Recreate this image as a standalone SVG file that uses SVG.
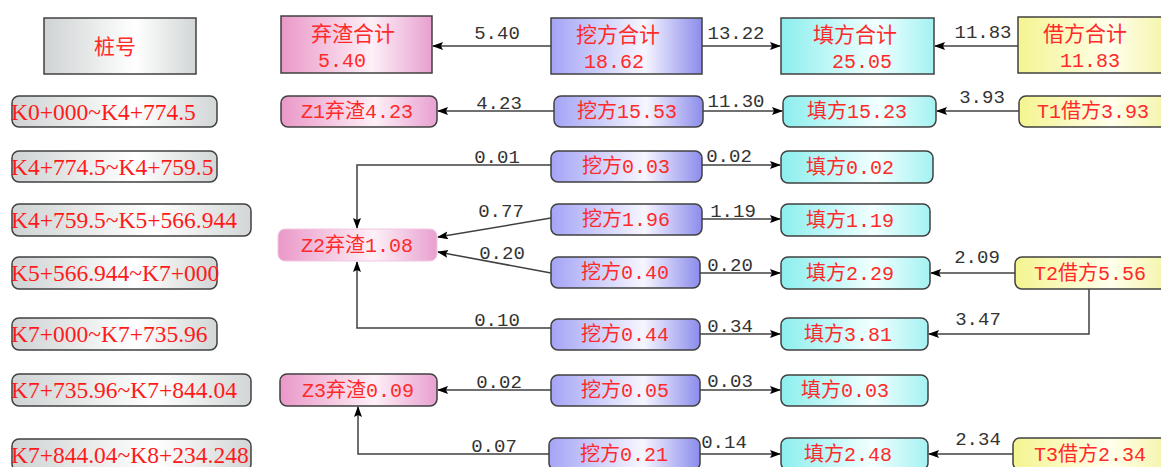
<svg xmlns="http://www.w3.org/2000/svg" width="1161" height="467" viewBox="0 0 1161 467">
<defs>
<linearGradient id="gGray" x1="0" y1="0" x2="1" y2="0"><stop offset="0" stop-color="#cfd3d3"/><stop offset="0.6" stop-color="#ffffff"/><stop offset="1" stop-color="#d2d6d6"/></linearGradient>
<linearGradient id="gPink" x1="0" y1="0" x2="1" y2="0"><stop offset="0" stop-color="#ea98c8"/><stop offset="0.6" stop-color="#fdf0f7"/><stop offset="1" stop-color="#e8a0d0"/></linearGradient>
<linearGradient id="gBlue" x1="0" y1="0" x2="1" y2="0"><stop offset="0" stop-color="#a4a4f6"/><stop offset="0.62" stop-color="#f6f6ff"/><stop offset="1" stop-color="#8c8cec"/></linearGradient>
<linearGradient id="gCyan" x1="0" y1="0" x2="1" y2="0"><stop offset="0" stop-color="#8ceeee"/><stop offset="0.62" stop-color="#f2ffff"/><stop offset="1" stop-color="#a4f2f2"/></linearGradient>
<linearGradient id="gYellow" x1="0" y1="0" x2="1" y2="0"><stop offset="0" stop-color="#f4f490"/><stop offset="0.62" stop-color="#ffffec"/><stop offset="1" stop-color="#f4f4a8"/></linearGradient>
<marker id="arr" markerWidth="11" markerHeight="9" refX="10" refY="4" orient="auto" markerUnits="userSpaceOnUse"><path d="M0,0 L11,4 L0,8 L2,4 z" fill="#000"/></marker>
<style>
.box{stroke:#404040;stroke-width:1.5}
.gray{fill:url(#gGray)}.pink{fill:url(#gPink)}.blue{fill:url(#gBlue)}.cyan{fill:url(#gCyan)}.yellow{fill:url(#gYellow)}
.t{font-family:"Liberation Mono","Noto Sans CJK SC",monospace;font-size:20px;fill:#ff2a2a;text-anchor:middle}
.h{font-family:"Noto Sans CJK SC",sans-serif;font-size:21px;fill:#ff2a2a;text-anchor:middle}
.st{font-family:"Liberation Serif",serif;font-size:23.5px;fill:#ff1a1a}
.ln{fill:none;stroke:#404040;stroke-width:1.5}
.arr{marker-end:url(#arr)}
.lb{font-family:"Liberation Mono",monospace;font-size:19px;fill:#333;text-anchor:middle}
</style>
</defs>
<rect width="1161" height="467" fill="#fff"/>

<g id="connectors">
<path class="ln arr" d="M551,46 H433"/>
<path class="ln arr" d="M702,46 H780"/>
<path class="ln arr" d="M1018,46 H935"/>
<path class="ln arr" d="M554,111 H438"/>
<path class="ln arr" d="M703,111 H782"/>
<path class="ln arr" d="M1019,111 H937"/>
<path class="ln arr" d="M551,165 H357 V228"/>
<path class="ln arr" d="M702,165 H780"/>
<path class="ln arr" d="M551,218 L438,237"/>
<path class="ln arr" d="M702,219 H780"/>
<path class="ln arr" d="M551,273 L438,252"/>
<path class="ln arr" d="M700,273 H780"/>
<path class="ln arr" d="M1015,273 H931"/>
<path class="ln arr" d="M551,328 H357 V262"/>
<path class="ln arr" d="M700,334 H780"/>
<path class="ln arr" d="M1089,289 V334 H929"/>
<path class="ln arr" d="M551,390 H438"/>
<path class="ln arr" d="M700,390 H780"/>
<path class="ln arr" d="M549,454 H358 V407"/>
<path class="ln arr" d="M700,454 H780"/>
<path class="ln arr" d="M1013,454 H929"/>
<text class="lb" x="497" y="39">5.40</text>
<text class="lb" x="736" y="39">13.22</text>
<text class="lb" x="983" y="38">11.83</text>
<text class="lb" x="499" y="109">4.23</text>
<text class="lb" x="736" y="107">11.30</text>
<text class="lb" x="982" y="103">3.93</text>
<text class="lb" x="497" y="163">0.01</text>
<text class="lb" x="729" y="162">0.02</text>
<text class="lb" x="501" y="217">0.77</text>
<text class="lb" x="733" y="217">1.19</text>
<text class="lb" x="502" y="259">0.20</text>
<text class="lb" x="730" y="271">0.20</text>
<text class="lb" x="977" y="263">2.09</text>
<text class="lb" x="497" y="326">0.10</text>
<text class="lb" x="730" y="332">0.34</text>
<text class="lb" x="978" y="325">3.47</text>
<text class="lb" x="499" y="388">0.02</text>
<text class="lb" x="730" y="387">0.03</text>
<text class="lb" x="494" y="452">0.07</text>
<text class="lb" x="724" y="448">0.14</text>
<text class="lb" x="978" y="445">2.34</text>
</g>

<g id="hdr-station"><rect class="box gray" x="44" y="18" width="152" height="56"/><text class="h" x="115" y="54">桩号</text></g>
<g id="hdr-waste"><rect class="box pink" x="281" y="16" width="151" height="57"/><text class="h" x="353" y="41">弃渣合计</text><text class="t" x="342" y="67">5.40</text></g>
<g id="hdr-cut"><rect class="box blue" x="551" y="18" width="151" height="56"/><text class="h" x="618" y="42">挖方合计</text><text class="t" x="614" y="68">18.62</text></g>
<g id="hdr-fill"><rect class="box cyan" x="781" y="18" width="153" height="56"/><text class="h" x="855" y="42">填方合计</text><text class="t" x="862" y="68">25.05</text></g>
<g id="hdr-borrow"><rect class="box yellow" x="1018" y="17" width="150" height="56"/><text class="h" x="1085" y="41">借方合计</text><text class="t" x="1090" y="67">11.83</text></g>

<g id="st1"><rect class="box gray" x="12" y="96" width="205" height="31" rx="7"/><text class="st" x="11" y="120">K0+000~K4+774.5</text></g>
<g id="st2"><rect class="box gray" x="12" y="151" width="205" height="31" rx="7"/><text class="st" x="11" y="175">K4+774.5~K4+759.5</text></g>
<g id="st3"><rect class="box gray" x="12" y="204" width="239" height="32" rx="7"/><text class="st" x="11" y="228">K4+759.5~K5+566.944</text></g>
<g id="st4"><rect class="box gray" x="12" y="257" width="205" height="32" rx="7"/><text class="st" x="11" y="281">K5+566.944~K7+000</text></g>
<g id="st5"><rect class="box gray" x="12" y="318" width="205" height="32" rx="7"/><text class="st" x="11" y="342">K7+000~K7+735.96</text></g>
<g id="st6"><rect class="box gray" x="12" y="374" width="239" height="32" rx="7"/><text class="st" x="11" y="398">K7+735.96~K7+844.04</text></g>
<g id="st7"><rect class="box gray" x="12" y="439" width="239" height="32" rx="7"/><text class="st" x="11" y="463">K7+844.04~K8+234.248</text></g>

<g id="z1"><rect class="box pink" x="281" y="96" width="156" height="31" rx="7"/><text class="t" x="357" y="118">Z1弃渣4.23</text></g>
<g id="z2"><rect class="pink" x="278" y="229" width="159" height="32" rx="7" stroke="#f0c8e0" stroke-width="1"/><text class="t" x="357" y="252">Z2弃渣1.08</text></g>
<g id="z3"><rect class="box pink" x="280" y="374" width="157" height="32" rx="7"/><text class="t" x="358" y="397">Z3弃渣0.09</text></g>

<g id="c1"><rect class="box blue" x="554" y="96" width="149" height="31" rx="7"/><text class="t" x="627" y="118">挖方15.53</text></g>
<g id="c2"><rect class="box blue" x="551" y="151" width="151" height="31" rx="7"/><text class="t" x="626" y="173">挖方0.03</text></g>
<g id="c3"><rect class="box blue" x="551" y="204" width="151" height="31" rx="7"/><text class="t" x="626" y="226">挖方1.96</text></g>
<g id="c4"><rect class="box blue" x="551" y="257" width="149" height="31" rx="7"/><text class="t" x="625" y="279">挖方0.40</text></g>
<g id="c5"><rect class="box blue" x="551" y="319" width="149" height="31" rx="7"/><text class="t" x="625" y="341">挖方0.44</text></g>
<g id="c6"><rect class="box blue" x="551" y="375" width="149" height="31" rx="7"/><text class="t" x="625" y="397">挖方0.05</text></g>
<g id="c7"><rect class="box blue" x="549" y="438" width="151" height="32" rx="7"/><text class="t" x="624" y="461">挖方0.21</text></g>

<g id="f1"><rect class="box cyan" x="783" y="96" width="153" height="31" rx="7"/><text class="t" x="857" y="118">填方15.23</text></g>
<g id="f2"><rect class="box cyan" x="781" y="151" width="152" height="32" rx="7"/><text class="t" x="850" y="174">填方0.02</text></g>
<g id="f3"><rect class="box cyan" x="781" y="204" width="149" height="32" rx="7"/><text class="t" x="850" y="227">填方1.19</text></g>
<g id="f4"><rect class="box cyan" x="781" y="257" width="149" height="32" rx="7"/><text class="t" x="850" y="280">填方2.29</text></g>
<g id="f5"><rect class="box cyan" x="781" y="318" width="147" height="32" rx="7"/><text class="t" x="848" y="341">填方3.81</text></g>
<g id="f6"><rect class="box cyan" x="781" y="375" width="147" height="31" rx="7"/><text class="t" x="845" y="397">填方0.03</text></g>
<g id="f7"><rect class="box cyan" x="781" y="438" width="147" height="32" rx="7"/><text class="t" x="848" y="461">填方2.48</text></g>

<g id="t1"><rect class="box yellow" x="1019" y="96" width="150" height="31" rx="7"/><text class="t" x="1093" y="118">T1借方3.93</text></g>
<g id="t2"><rect class="box yellow" x="1015" y="257" width="154" height="32" rx="7"/><text class="t" x="1090" y="280">T2借方5.56</text></g>
<g id="t3"><rect class="box yellow" x="1013" y="438" width="156" height="32" rx="7"/><text class="t" x="1090" y="461">T3借方2.34</text></g>
</svg>
